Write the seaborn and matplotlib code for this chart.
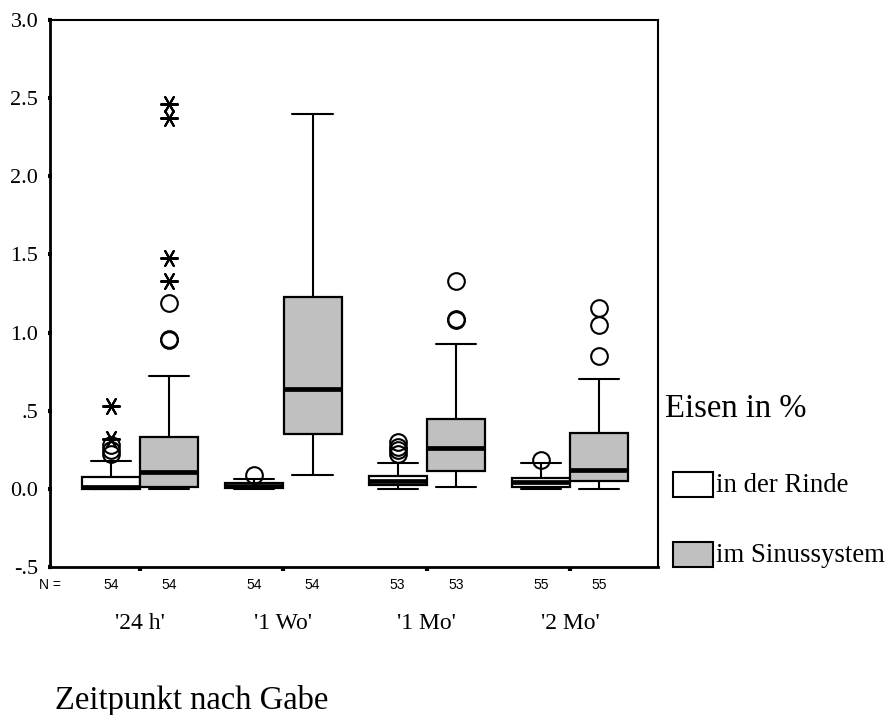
import matplotlib
matplotlib.use("Agg")
import matplotlib.pyplot as plt
from matplotlib.patches import Rectangle
from matplotlib.transforms import blended_transform_factory
import seaborn as sns

# ---------------- data ----------------
groups = ["'24 h'", "'1 Wo'", "'1 Mo'", "'2 Mo'"]
series = ["in der Rinde", "im Sinussystem"]
n_rinde = [54, 54, 53, 55]
n_sinus = [54, 54, 53, 55]

rinde_whislo = [0.0, 0.0, 0.0, 0.0]
rinde_q1 = [0.0, 0.005, 0.025, 0.01]
rinde_med = [0.01, 0.02, 0.05, 0.045]
rinde_q3 = [0.078, 0.04, 0.085, 0.072]
rinde_whishi = [0.18, 0.065, 0.165, 0.165]
rinde_outliers = [[0.22, 0.25, 0.28], [0.09], [0.22, 0.25, 0.27, 0.30], [0.185]]
rinde_extremes = [[0.32, 0.53], [], [], []]

sinus_whislo = [0.0, 0.09, 0.013, 0.0]
sinus_q1 = [0.013, 0.35, 0.115, 0.05]
sinus_med = [0.11, 0.64, 0.26, 0.12]
sinus_q3 = [0.33, 1.23, 0.45, 0.36]
sinus_whishi = [0.72, 2.40, 0.93, 0.70]
sinus_outliers = [[0.95, 0.96, 1.19], [], [1.08, 1.085, 1.33], [0.85, 1.05, 1.16]]
sinus_extremes = [[1.33, 1.48, 2.37, 2.46], [], [], []]

yticks = [-0.5, 0.0, 0.5, 1.0, 1.5, 2.0, 2.5, 3.0]
ytick_labels = ["-.5", "0.0", ".5", "1.0", "1.5", "2.0", "2.5", "3.0"]

# ---------------- style ----------------
sns.set_theme(style="white")
plt.rcParams["font.family"] = ["Liberation Serif", "DejaVu Serif"]
plt.rcParams["text.color"] = "black"
plt.rcParams["xtick.color"] = "black"
plt.rcParams["ytick.color"] = "black"
plt.rcParams["axes.labelcolor"] = "black"

W, H = 888, 715
fig = plt.figure(figsize=(W / 100, H / 100), dpi=100)
ax = fig.add_axes([50 / W, 1 - 567 / H, 608 / W, 547 / H])

offset = 0.203
bw = 0.405
colors = ["white", "#c0c0c0"]

stats_sets = [
    (rinde_whislo, rinde_q1, rinde_med, rinde_q3, rinde_whishi, rinde_outliers, rinde_extremes, n_rinde, -offset, colors[0]),
    (sinus_whislo, sinus_q1, sinus_med, sinus_q3, sinus_whishi, sinus_outliers, sinus_extremes, n_sinus, offset, colors[1]),
]

btrans = blended_transform_factory(ax.transData, ax.transAxes)
count_y = -(585 - 567) / 547

for wl, q1, med, q3, wh, outl, ext, ns, off, col in stats_sets:
    stats = []
    pos = []
    for i in range(len(groups)):
        stats.append(dict(whislo=wl[i], q1=q1[i], med=med[i], q3=q3[i],
                          whishi=wh[i], fliers=outl[i]))
        pos.append(i + off)
    ax.bxp(stats, positions=pos, widths=bw, capwidths=0.28, patch_artist=True,
           showfliers=True,
           boxprops=dict(facecolor=col, edgecolor="black", linewidth=1.6),
           medianprops=dict(color="black", linewidth=3.4),
           whiskerprops=dict(color="black", linewidth=1.5),
           capprops=dict(color="black", linewidth=1.5),
           flierprops=dict(marker="o", markerfacecolor="none", markeredgecolor="black",
                           markersize=12, markeredgewidth=1.5, linestyle="none"))
    ex_x, ex_y = [], []
    for i in range(len(groups)):
        for v in ext[i]:
            ex_x.append(i + off)
            ex_y.append(v)
    if ex_x:
        sns.scatterplot(x=ex_x, y=ex_y, ax=ax, marker=(6, 2, 90), s=150,
                        color="black", linewidth=1.5, zorder=5, legend=False)
    for i in range(len(groups)):
        ax.text(i + off, count_y, str(ns[i]), transform=btrans, ha="center", va="center",
                fontsize=10, family="Liberation Sans")

ax.text(0.0, count_y, "N =", transform=ax.transAxes, ha="center", va="center",
        fontsize=10, family="Liberation Sans")

ax.set_xlim(-0.63, 3.615)
ax.set_ylim(-0.5, 3.0)
ax.set_yticks(yticks)
ax.set_yticklabels(ytick_labels, fontsize=16)
ax.set_xticks(range(len(groups)))
ax.set_xticklabels(groups, fontsize=17)
ax.tick_params(axis="y", direction="inout", length=3, width=3, color="black", pad=7, left=True)
ax.tick_params(axis="x", direction="out", length=3, width=3, color="black", pad=30, bottom=True)
ax.set_xlabel("")
ax.set_ylabel("")
for s in ax.spines.values():
    s.set_color("black")
    s.set_linewidth(1.5)
ax.spines["left"].set_linewidth(2)
ax.spines["bottom"].set_linewidth(2)

# x-axis title
fig.text(55 / W, 1 - 709 / H, "Zeitpunkt nach Gabe", ha="left", va="baseline", fontsize=23.5)

# legend (manual, SPSS style)
fig.text(665 / W, 1 - 417 / H, "Eisen in %", ha="left", va="baseline", fontsize=23.5)
legend_y = [(472, 497, 492), (542, 567, 562)]
for (top, bot, base), col, lab in zip(legend_y, colors, series):
    fig.patches.append(Rectangle((673 / W, 1 - bot / H), 40 / W, (bot - top) / H,
                                 transform=fig.transFigure, facecolor=col,
                                 edgecolor="black", linewidth=1.5))
    fig.text(716 / W, 1 - base / H, lab, ha="left", va="baseline", fontsize=19.3)

fig.savefig("out.png", dpi=100)
